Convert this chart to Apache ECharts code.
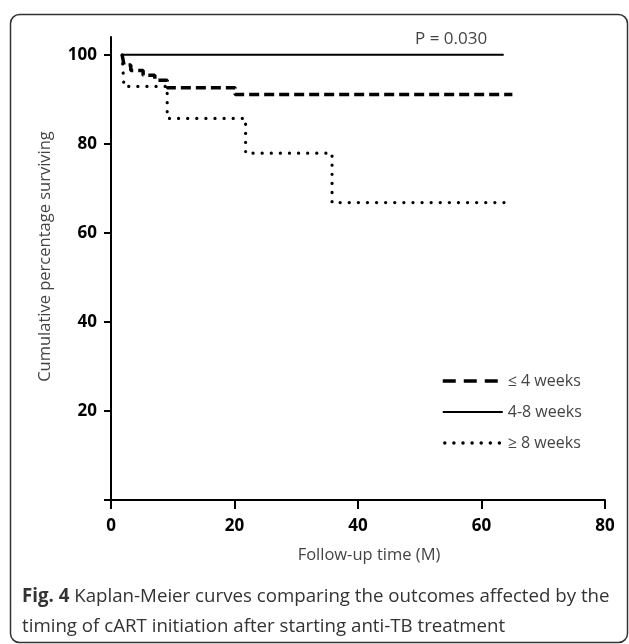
<!DOCTYPE html>
<html>
<head>
<meta charset="utf-8">
<script src="https://cdn.jsdelivr.net/npm/echarts@6/dist/echarts.min.js"></script>
<style>
  html, body { margin: 0; padding: 0; background: #fff; }
  #chart { width: 629px; height: 644px; }
</style>
</head>
<body>
<div id="chart"></div>
<script>
// series names
const groups = ["≤ 4 weeks", "4-8 weeks", "≥ 8 weeks"];

// [time (months), cumulative % surviving]
const early = [[1.8, 100], [2.1, 97.7], [3.2, 96.5], [5.2, 95.4], [7.1, 94.3], [9.1, 92.6], [20.1, 91.1], [65, 91.1]];
const middle = [[1.8, 100], [63.6, 100]];
const late = [[1.8, 100], [2.1, 92.9], [9.1, 85.7], [21.8, 77.9], [35.8, 66.8], [65, 66.8]];

const xTicks = [0, 20, 40, 60, 80];
const yTicks = [0, 20, 40, 60, 80, 100];
const yLabels = [20, 40, 60, 80, 100];

const pValue = "P = 0.030";
const caption = "{b|Fig. 4} Kaplan-Meier curves comparing the outcomes affected by the\ntiming of cART initiation after starting anti-TB treatment";

const font = "'Open Sans', 'Noto Sans', sans-serif";

const dashed = { color: "#000", width: 3.5, type: [10, 5] };
const solid = { color: "#000", width: 2 };
const dotted = { color: "#000", width: 3.2, type: [0.1, 9], cap: "round" };

var myChart = echarts.init(document.getElementById("chart"));

let option = {
  animation: false,
  backgroundColor: "#fff",
  grid: {
    left: 111,
    right: 24,
    top: 37,
    bottom: 144
  },
  title: [
    {
      text: pValue,
      left: 410,
      top: 26,
      textStyle: { color: "#444", fontSize: 17, fontWeight: "normal", fontFamily: font }
    },
    {
      text: caption,
      left: 17,
      top: 577,
      textStyle: {
        color: "#333", fontSize: 18.7, fontWeight: "normal", fontFamily: font, lineHeight: 30,
        rich: { b: { fontWeight: "bold", fontSize: 18.7, fontFamily: font, color: "#333" } }
      }
    }
  ],
  legend: {
    data: [
      { name: groups[0], lineStyle: { width: 3.5, type: [13, 8] } },
      { name: groups[1], lineStyle: { width: 2 } },
      { name: groups[2], lineStyle: { width: 3.4, type: [0.1, 9], cap: "round", dashOffset: -2 } }
    ],
    orient: "vertical",
    left: 436,
    top: 368,
    itemWidth: 60,
    itemHeight: 14,
    itemGap: 15,
    itemStyle: { opacity: 0 },
    textStyle: { color: "#444", fontSize: 16, fontFamily: font }
  },
  xAxis: {
    type: "value",
    min: 0,
    max: 80,
    interval: 20,
    name: "Follow-up time (M)",
    nameLocation: "middle",
    nameGap: 47,
    nameTextStyle: { color: "#444", fontSize: 16.5, fontFamily: font, padding: [0, 0, 0, 22] },
    axisLine: { lineStyle: { color: "#000", width: 2 } },
    axisTick: { length: 9, lineStyle: { color: "#000", width: 2 }, customValues: xTicks },
    axisLabel: { color: "#000", fontSize: 17, fontWeight: "bold", fontFamily: font, margin: 18, customValues: xTicks },
    splitLine: { show: false }
  },
  yAxis: {
    type: "value",
    min: 0,
    max: 104,
    name: "Cumulative percentage surviving",
    nameLocation: "middle",
    nameGap: 57,
    nameTextStyle: { color: "#444", fontSize: 16.5, fontFamily: font, padding: [0, 0, 0, 24] },
    axisLine: { show: true, lineStyle: { color: "#000", width: 2 } },
    axisTick: { show: true, length: 7, lineStyle: { color: "#000", width: 2 }, customValues: yTicks },
    axisLabel: { color: "#000", fontSize: 17, fontWeight: "bold", fontFamily: font, margin: 14, customValues: yLabels },
    splitLine: { show: false }
  },
  series: [
    {
      name: groups[0],
      type: "line",
      step: "end",
      data: early,
      symbol: "none",
      itemStyle: { color: "#000" },
      lineStyle: dashed
    },
    {
      name: groups[1],
      type: "line",
      step: "end",
      data: middle,
      symbol: "none",
      itemStyle: { color: "#000" },
      lineStyle: solid
    },
    {
      name: groups[2],
      type: "line",
      step: "end",
      data: late,
      symbol: "none",
      itemStyle: { color: "#000" },
      lineStyle: dotted
    }
  ],
  graphic: [
    {
      type: "rect",
      left: 8,
      top: 12,
      shape: { width: 617, height: 628, r: 9 },
      style: { fill: "none", stroke: "#333", lineWidth: 1.5 },
      silent: true
    }
  ]
};

myChart.setOption(option);
</script>
</body>
</html>
